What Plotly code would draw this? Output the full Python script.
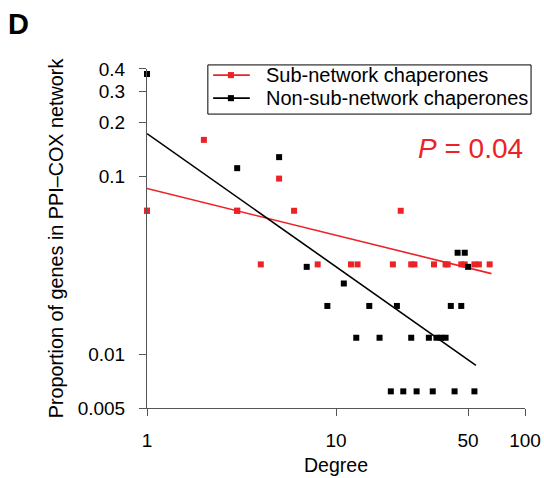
import plotly.graph_objects as go

# Sub-network chaperones (red)
sub_degree = [1, 2, 3, 5, 1, 3, 6, 22, 4, 8, 12, 13, 20, 25, 26, 33, 38, 39, 46, 48, 54, 57, 65]
sub_prop = [0.064, 0.16, 0.064, 0.097, 0.064, 0.064, 0.064, 0.064, 0.032, 0.032, 0.032, 0.032,
            0.032, 0.032, 0.032, 0.032, 0.032, 0.032, 0.032, 0.032, 0.032, 0.032, 0.032]

# Non-sub-network chaperones (black)
non_degree = [1, 3, 5, 7, 11, 9, 15, 21, 40.5, 46, 44, 48, 50,
              12.8, 17, 25, 31, 34, 36, 38,
              19.5, 22.7, 26.7, 32.5, 42.4, 54]
non_prop = [0.375, 0.111, 0.128, 0.031, 0.025, 0.0187, 0.0187, 0.0187, 0.0187, 0.0187, 0.0372, 0.0372, 0.031,
            0.0124, 0.0124, 0.0124, 0.0124, 0.0124, 0.0124, 0.0124,
            0.0062, 0.0062, 0.0062, 0.0062, 0.0062, 0.0062]

# fitted lines (end points)
sub_fit_x = [1, 66.5]
sub_fit_y = [0.0853, 0.0284]
non_fit_x = [1, 55]
non_fit_y = [0.1736, 0.00868]

x_ticks = [1, 10, 50, 100]
y_ticks = [0.005, 0.01, 0.1, 0.2, 0.3, 0.4]

legend_names = ["Sub-network chaperones", "Non-sub-network chaperones"]

red = "#ec2227"
black = "#000000"

fig = go.Figure()
fig.add_trace(go.Scatter(x=sub_fit_x, y=sub_fit_y, mode="lines",
                         line={'color': red, 'width': 1.6}, showlegend=False))
fig.add_trace(go.Scatter(x=non_fit_x, y=non_fit_y, mode="lines",
                         line={'color': black, 'width': 1.6}, showlegend=False))
fig.add_trace(go.Scatter(x=sub_degree, y=sub_prop, mode="markers", cliponaxis=False,
                         name=legend_names[0],
                         marker={'symbol': 'square', 'size': 6, 'color': red},
                         showlegend=False))
fig.add_trace(go.Scatter(x=non_degree, y=non_prop, mode="markers", cliponaxis=False,
                         name=legend_names[1],
                         marker={'symbol': 'square', 'size': 6, 'color': black},
                         showlegend=False))

axis_style = dict(type="log", showgrid=False, zeroline=False, showline=True, automargin=False,
                  linecolor="#555555", linewidth=1, ticks="outside", ticklen=7,
                  tickcolor="#555555", tickfont={'size': 19, 'color': "black"})

fig.update_xaxes(range=[0, 2], tickvals=x_ticks, ticktext=[str(v) for v in x_ticks],
                 ticklabelstandoff=8,
                 title={'text': "Degree", 'font': {'size': 19.5}, 'standoff': 8}, **axis_style)
fig.update_yaxes(range=[-2.301, -0.398], tickvals=y_ticks, ticktext=[str(v) for v in y_ticks],
                 ticklabelstandoff=10,
                 title={'text': "Proportion of genes in PPI\u2013COX network", 'font': {'size': 19.8},
                        'standoff': 8}, **axis_style)

# legend box drawn by hand (compact rows like the original)
fig.add_shape(type="rect", xref="paper", yref="paper", x0=0.161, x1=1.016, y0=0.867, y1=1.012,
              line={'color': "black", 'width': 1}, fillcolor="white", layer="above")
for i, (name, col) in enumerate(zip(legend_names, [red, black])):
    yc = [0.982, 0.914][i]
    fig.add_shape(type="line", xref="paper", yref="paper", x0=0.175, x1=0.272, y0=yc, y1=yc,
                  line={'color': col, 'width': 1.6}, layer="above")
    fig.add_shape(type="rect", xref="paper", yref="paper", x0=0.214, x1=0.230,
                  y0=yc - 0.009, y1=yc + 0.009, line={'width': 0}, fillcolor=col, layer="above")
    fig.add_annotation(text=name, xref="paper", yref="paper", x=0.310, y=yc,
                       xanchor="left", yanchor="middle", showarrow=False,
                       font={'size': 20, 'color': "black"})

fig.add_annotation(text="<b>D</b>", xref="paper", yref="paper", x=-0.372, y=1.185,
                   xanchor="left", yanchor="top", showarrow=False,
                   font={'size': 29, 'color': "black"})
fig.add_annotation(text="<i>P</i> = 0.04", xref="paper", yref="paper", x=1.0, y=0.765,
                   xanchor="right", yanchor="middle", showarrow=False,
                   font={'size': 28, 'color': red})

fig.update_layout(
    width=544,
    height=478,
    plot_bgcolor="white",
    paper_bgcolor="white",
    showlegend=False,
    margin={'l': 147, 'r': 19, 't': 69, 'b': 70},
    font={'family': "Liberation Sans, Arial, Helvetica, sans-serif", 'size': 18, 'color': "black"},
)

# page body has a default 8px margin; drop it so the figure fills the window
fig.write_html("out.html", config={'displayModeBar': False},
               post_script="document.body.style.margin = '0px';")
